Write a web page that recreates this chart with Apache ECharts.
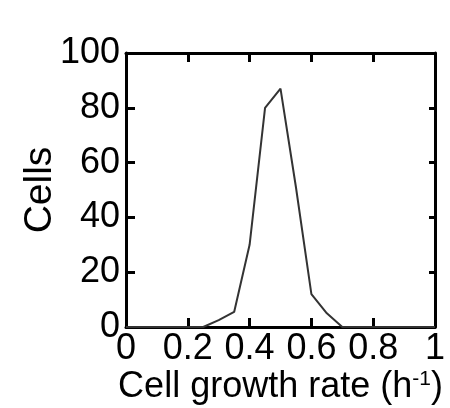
<!DOCTYPE html>
<html>
<head>
<meta charset="utf-8">
<script src="https://cdn.jsdelivr.net/npm/echarts@6/dist/echarts.min.js"></script>
<style>html,body{margin:0;padding:0;background:#fff}#c{width:450px;height:408px}</style>
</head>
<body>
<div id="c"></div>
<script>
const growthRates = [0, 0.05, 0.1, 0.15, 0.2, 0.25, 0.3, 0.35, 0.4, 0.45, 0.5, 0.55, 0.6, 0.65, 0.7, 0.75, 0.8, 0.85, 0.9, 0.95, 1];
const cellCounts  = [0, 0, 0, 0, 0, 0, 2.5, 5.5, 30, 80, 87, 51, 12, 5, 0, 0, 0, 0, 0, 0, 0];
const xTitle = 'Cell growth rate (h{sup|-1})';
const yTitle = 'Cells';

const font = 'Liberation Sans, Arial, sans-serif';
const chart = echarts.init(document.getElementById('c'), null, {renderer: 'canvas'});
const inTick = {show: true, inside: true, length: 9, lineStyle: {color: '#000', width: 3}};
const axLine = {show: true, onZero: false, lineStyle: {color: '#000', width: 3}};
chart.setOption({
  animation: false,
  backgroundColor: '#fff',
  grid: {left: 126, top: 53, right: 15, bottom: 81, containLabel: false, outerBoundsMode: 'none'},
  xAxis: [{
    type: 'value', min: 0, max: 1, interval: 0.2, position: 'bottom',
    axisLine: axLine, axisTick: inTick, splitLine: {show: false},
    axisLabel: {color: '#000', fontFamily: font, fontSize: 36, margin: 4},
    name: xTitle, nameLocation: 'middle', nameGap: 42, nameMoveOverlap: false,
    nameTextStyle: {color: '#000', fontFamily: font, fontSize: 36,
      rich: {sup: {fontSize: 21, fontFamily: font, color: '#000', verticalAlign: 'top', padding: [0, 0, 14, 0]}}}
  }, {
    type: 'value', min: 0, max: 1, interval: 0.2, position: 'top',
    axisLine: axLine, axisTick: inTick, axisLabel: {show: false}, splitLine: {show: false}
  }],
  yAxis: [{
    type: 'value', min: 0, max: 100, interval: 20, position: 'left',
    axisLine: axLine, axisTick: inTick, splitLine: {show: false},
    axisLabel: {color: '#000', fontFamily: font, fontSize: 36, margin: 6},
    name: yTitle, nameLocation: 'middle', nameGap: 66, nameMoveOverlap: false,
    nameTextStyle: {color: '#000', fontFamily: font, fontSize: 39}
  }, {
    type: 'value', min: 0, max: 100, interval: 20, position: 'right',
    axisLine: axLine, axisTick: {show: true, inside: true, length: 6, lineStyle: {color: '#000', width: 3}},
    axisLabel: {show: false}, splitLine: {show: false}
  }],
  series: [{
    type: 'line', xAxisIndex: 0, yAxisIndex: 0,
    data: growthRates.map((x, i) => [x, cellCounts[i]]),
    showSymbol: false, smooth: false,
    lineStyle: {color: '#333', width: 2}
  }]
});
</script>
</body>
</html>
